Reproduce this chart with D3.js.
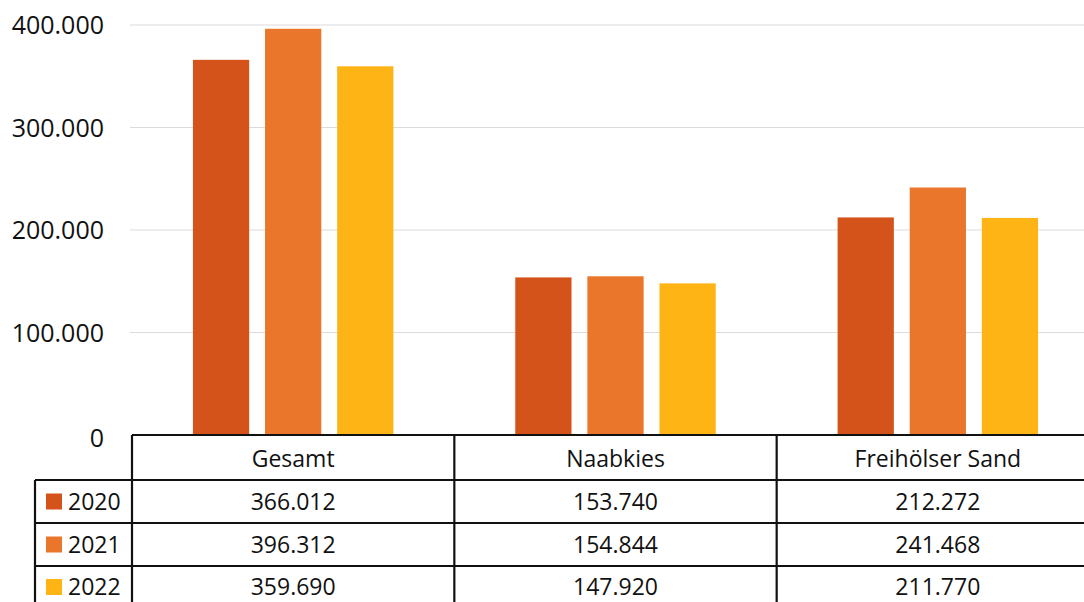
<!DOCTYPE html>
<html>
<head>
<meta charset="utf-8">
<script src="https://cdn.jsdelivr.net/npm/d3@7"></script>
<style>
  html, body { margin: 0; padding: 0; background: #fff; }
  svg { display: block; }
  text { font-family: "Open Sans", "Liberation Sans", sans-serif; fill: #111; }
</style>
</head>
<body>
<svg id="chart" width="1084" height="602"></svg>
<script>
const categories = ["Gesamt", "Naabkies", "Freihölser Sand"];
const years = ["2020", "2021", "2022"];
const values2020 = [366012, 153740, 212272];
const values2021 = [396312, 154844, 241468];
const values2022 = [359690, 147920, 211770];
const yTicks = [0, 100000, 200000, 300000, 400000];
const colors = ["#D4531B", "#E9762A", "#FDB414"];

const seriesValues = [values2020, values2021, values2022];
const fmt = v => d3.format(",")(v).replace(/,/g, ".");

const svg = d3.select("#chart");
const W = 1084, H = 602;

const y = d3.scaleLinear().domain([0, 400000]).range([435, 25]);
const x0 = d3.scaleBand().domain(categories).range([132, 1099]).paddingInner(0).paddingOuter(0);
const x1 = d3.scaleBand().domain(years).range([0, x0.bandwidth()]).paddingInner(0.22).paddingOuter(0.845);

// gridlines
svg.append("g").selectAll("line")
  .data(yTicks.filter(t => t > 0))
  .join("line")
  .attr("x1", 130).attr("x2", W)
  .attr("y1", d => y(d)).attr("y2", d => y(d))
  .attr("stroke", "#dcdcdc").attr("stroke-width", 1.2);

// y axis labels
const yAxis = d3.axisLeft(y).tickValues(yTicks).tickFormat(fmt).tickSize(0).tickPadding(0);
const gy = svg.append("g").attr("transform", "translate(104,0)").call(yAxis);
gy.select(".domain").remove();
gy.selectAll("text")
  .attr("font-family", "Open Sans, Liberation Sans, sans-serif")
  .attr("font-size", 25).attr("fill", "#111").attr("dy", "0.35em");
gy.selectAll(".tick").filter(d => d === 0).select("text").attr("dy", "0.45em");

// bars
const groups = svg.append("g").selectAll("g")
  .data(categories)
  .join("g")
  .attr("transform", d => `translate(${x0(d)},0)`);

groups.selectAll("rect")
  .data((c, ci) => years.map((yr, si) => ({ yr, si, v: seriesValues[si][ci] })))
  .join("rect")
  .attr("x", d => x1(d.yr))
  .attr("width", x1.bandwidth())
  .attr("y", d => y(d.v))
  .attr("height", d => y(0) - y(d.v))
  .attr("fill", d => colors[d.si]);

// data table
const rowEdges = [435, 480, 523, 566, 610];
const leftX = 35;
const table = svg.append("g");
const lineAttrs = sel => sel.attr("stroke", "#111").attr("stroke-width", 2.2);

table.append("line").attr("x1", x0(categories[0])).attr("x2", W).attr("y1", rowEdges[0]).attr("y2", rowEdges[0]).call(lineAttrs);
rowEdges.slice(1, 4).forEach(yy => {
  table.append("line").attr("x1", leftX).attr("x2", W).attr("y1", yy).attr("y2", yy).call(lineAttrs);
});
table.append("line").attr("x1", leftX).attr("x2", leftX).attr("y1", rowEdges[1]).attr("y2", H).call(lineAttrs);
categories.forEach(c => {
  table.append("line").attr("x1", x0(c)).attr("x2", x0(c)).attr("y1", rowEdges[0]).attr("y2", H).call(lineAttrs);
});
table.append("line").attr("x1", x0(categories[2]) + x0.bandwidth()).attr("x2", x0(categories[2]) + x0.bandwidth())
  .attr("y1", rowEdges[0]).attr("y2", H).call(lineAttrs);

table.selectAll("text.hdr")
  .data(categories)
  .join("text")
  .attr("class", "hdr")
  .attr("x", d => x0(d) + x0.bandwidth() / 2)
  .attr("y", (rowEdges[0] + rowEdges[1]) / 2 + 1)
  .attr("text-anchor", "middle").attr("dy", "0.35em")
  .attr("font-size", 23)
  .text(d => d);

years.forEach((yr, si) => {
  const cy = (rowEdges[si + 1] + rowEdges[si + 2]) / 2;
  const yy = si === 2 ? 587 : cy;
  table.append("rect")
    .attr("x", 46).attr("y", yy - 8).attr("width", 16).attr("height", 16)
    .attr("fill", colors[si]);
  table.append("text")
    .attr("x", 68).attr("y", yy).attr("dy", "0.35em")
    .attr("font-size", 23)
    .text(yr);
  categories.forEach((c, ci) => {
    table.append("text")
      .attr("x", x0(c) + x0.bandwidth() / 2)
      .attr("y", yy).attr("dy", "0.35em")
      .attr("text-anchor", "middle")
      .attr("font-size", 23)
      .text(fmt(seriesValues[si][ci]));
  });
});
</script>
</body>
</html>
